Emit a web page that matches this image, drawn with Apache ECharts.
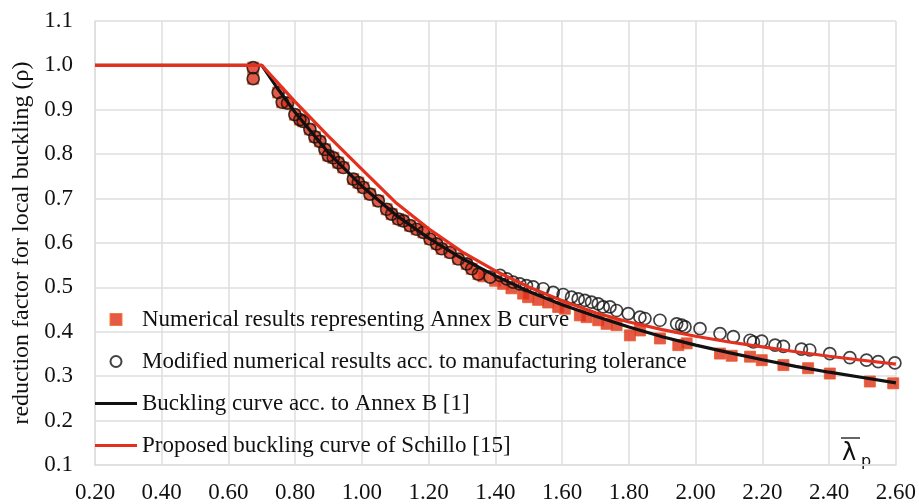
<!DOCTYPE html>
<html>
<head>
<meta charset="utf-8">
<script src="https://cdn.jsdelivr.net/npm/echarts@6.0.0/dist/echarts.min.js"></script>
<style>
  html, body { margin: 0; padding: 0; background: #fff; }
  #chart { width: 919px; height: 504px; }
</style>
</head>
<body>
<div id="chart"></div>
<script>
// series names (legend)
const nameNum = 'Numerical results representing Annex B curve';
const nameMod = 'Modified numerical results acc. to manufacturing tolerance';
const nameAnnex = 'Buckling curve acc. to Annex B [1]';
const nameSchillo = 'Proposed buckling curve of Schillo [15]';

// numerical results (red squares)
const numX = [0.674, 0.674, 0.749, 0.761, 0.777, 0.799, 0.814, 0.824, 0.844, 0.859, 0.874, 0.889, 0.899, 0.914, 0.929, 0.944, 0.974, 0.989, 1.004, 1.024, 1.049, 1.074, 1.089, 1.109, 1.124, 1.144, 1.164, 1.184, 1.204, 1.224, 1.239, 1.264, 1.289, 1.314, 1.329, 1.349,
  1.364, 1.399, 1.423, 1.448, 1.483, 1.498, 1.528, 1.558, 1.588, 1.608, 1.653, 1.673, 1.708, 1.733, 1.763, 1.803, 1.833, 1.893, 1.948, 1.973, 2.073, 2.108, 2.163, 2.198, 2.263, 2.337, 2.402, 2.522, 2.592];
const numY = [0.995, 0.970, 0.939, 0.917, 0.915, 0.889, 0.878, 0.874, 0.856, 0.839, 0.829, 0.811, 0.797, 0.792, 0.781, 0.770, 0.744, 0.736, 0.725, 0.710, 0.695, 0.676, 0.665, 0.654, 0.650, 0.639, 0.631, 0.624, 0.609, 0.598, 0.587, 0.579, 0.564, 0.553, 0.542, 0.530,
  0.525, 0.515, 0.508, 0.498, 0.486, 0.478, 0.472, 0.466, 0.456, 0.452, 0.437, 0.433, 0.426, 0.418, 0.415, 0.392, 0.403, 0.385, 0.370, 0.374, 0.351, 0.346, 0.344, 0.336, 0.325, 0.318, 0.306, 0.288, 0.284];

// modified numerical results (open circles)
const modX = [0.674, 0.674, 0.749, 0.761, 0.777, 0.799, 0.814, 0.824, 0.844, 0.859, 0.874, 0.889, 0.899, 0.914, 0.929, 0.944, 0.974, 0.989, 1.004, 1.024, 1.049, 1.074, 1.089, 1.109, 1.124, 1.144, 1.164, 1.184, 1.204, 1.224, 1.239, 1.264, 1.289, 1.314, 1.329, 1.349,
  1.384, 1.414, 1.434, 1.453, 1.473, 1.493, 1.513, 1.543, 1.573, 1.603, 1.628, 1.648, 1.668, 1.688, 1.708, 1.723, 1.743, 1.763, 1.798, 1.833, 1.848, 1.893, 1.943, 1.958, 1.968, 2.013, 2.073, 2.113, 2.163, 2.173, 2.198, 2.238, 2.263, 2.317, 2.342, 2.402, 2.462, 2.512, 2.547, 2.597];
const modY = [0.995, 0.970, 0.939, 0.917, 0.915, 0.889, 0.878, 0.874, 0.856, 0.839, 0.829, 0.811, 0.797, 0.792, 0.781, 0.770, 0.744, 0.736, 0.725, 0.710, 0.695, 0.676, 0.665, 0.654, 0.650, 0.639, 0.631, 0.624, 0.609, 0.598, 0.587, 0.579, 0.564, 0.553, 0.542, 0.530,
  0.523, 0.527, 0.519, 0.512, 0.508, 0.504, 0.501, 0.497, 0.489, 0.484, 0.478, 0.474, 0.471, 0.467, 0.463, 0.456, 0.456, 0.448, 0.441, 0.433, 0.430, 0.426, 0.418, 0.415, 0.411, 0.407, 0.396, 0.389, 0.381, 0.377, 0.379, 0.370, 0.367, 0.361, 0.359, 0.351, 0.342, 0.336, 0.333, 0.330];

// Annex B curve (black)
const annexX = [0.2, 0.7, 0.75, 0.8, 0.9, 1.0, 1.1, 1.2, 1.3, 1.4, 1.5, 1.6, 1.7, 1.8, 1.9, 2.0, 2.1, 2.2, 2.3, 2.4, 2.5, 2.6];
const annexY = [1.0, 1.0, 0.945, 0.894, 0.803, 0.728, 0.664, 0.611, 0.565, 0.526, 0.491, 0.461, 0.435, 0.411, 0.389, 0.370, 0.353, 0.337, 0.322, 0.309, 0.297, 0.285];

// Schillo curve (red)
const schilloX = [0.2, 0.7, 0.8, 0.9, 1.0, 1.1, 1.2, 1.3, 1.4, 1.5, 1.6, 1.7, 1.8, 1.9, 2.0, 2.1, 2.2, 2.3, 2.4, 2.5, 2.6];
const schilloY = [1.0, 1.0, 0.918, 0.840, 0.766, 0.692, 0.632, 0.580, 0.537, 0.501, 0.470, 0.443, 0.422, 0.405, 0.390, 0.377, 0.366, 0.355, 0.345, 0.336, 0.327];

const zip = (xs, ys) => xs.map((x, i) => [x, ys[i]]);

const serif = 'Liberation Serif';
const gridColor = '#dedede';
const lineIcon = 'path://M0,0L42,0L42,3L0,3Z';

const chart = echarts.init(document.getElementById('chart'));
chart.setOption({
  animation: false,
  grid: { left: 95, right: 23, top: 21, bottom: 37 },
  legend: {
    orient: 'vertical',
    left: 95,
    top: 308,
    padding: 0,
    itemWidth: 42,
    itemHeight: 11,
    itemGap: 19,
    textStyle: { fontFamily: serif, fontSize: 23, color: '#111' },
    data: [
      { name: nameNum, icon: 'path://M0,0L10,0L10,10L0,10Z' },
      { name: nameMod, icon: 'circle' },
      { name: nameAnnex, icon: lineIcon },
      { name: nameSchillo, icon: lineIcon }
    ]
  },
  xAxis: {
    type: 'value',
    min: 0.2,
    max: 2.6,
    interval: 0.2,
    axisLine: { show: true, lineStyle: { color: gridColor, width: 1.5 } },
    axisTick: { show: false },
    splitLine: { show: true, lineStyle: { color: gridColor, width: 1.5 } },
    axisLabel: {
      fontFamily: serif, fontSize: 23, color: '#111', margin: 16,
      formatter: v => v.toFixed(2)
    }
  },
  yAxis: {
    type: 'value',
    min: 0.1,
    max: 1.1,
    interval: 0.1,
    name: 'reduction factor for local buckling (ρ)',
    nameLocation: 'middle',
    nameGap: 60,
    nameTextStyle: { fontFamily: serif, fontSize: 24, color: '#111' },
    axisLine: { show: true, lineStyle: { color: gridColor, width: 1.5 } },
    axisTick: { show: false },
    splitLine: { show: true, lineStyle: { color: gridColor, width: 1.5 } },
    axisLabel: {
      fontFamily: serif, fontSize: 23, color: '#111', margin: 22,
      formatter: v => v.toFixed(1)
    }
  },
  graphic: [
    { type: 'text', x: 842, y: 454, style: { text: 'λ', font: '24px "DejaVu Sans"', fill: '#111', verticalAlign: 'middle' } },
    { type: 'text', x: 861, y: 462, style: { text: 'p', font: '16px "DejaVu Sans"', fill: '#111', verticalAlign: 'middle' } },
    { type: 'line', shape: { x1: 841, y1: 438, x2: 860, y2: 438 }, style: { stroke: '#333', lineWidth: 1.5 } }
  ],
  series: [
    {
      name: nameNum,
      type: 'scatter',
      symbol: 'rect',
      symbolSize: 11,
      itemStyle: { color: '#df2f1a', borderColor: '#ea5a22', borderWidth: 1 },
      data: zip(numX, numY),
      z: 2
    },
    {
      name: nameMod,
      type: 'scatter',
      symbol: 'circle',
      symbolSize: 12,
      itemStyle: { color: 'rgba(0,0,0,0)', borderColor: '#111', borderWidth: 1.7 },
      data: zip(modX, modY),
      z: 3
    },
    {
      name: nameAnnex,
      type: 'line',
      symbol: 'none',
      lineStyle: { color: '#111', width: 3.2 },
      itemStyle: { color: '#111' },
      data: zip(annexX, annexY),
      z: 4
    },
    {
      name: nameSchillo,
      type: 'line',
      symbol: 'none',
      lineStyle: { color: '#e3301f', width: 3.2 },
      itemStyle: { color: '#e3301f' },
      data: zip(schilloX, schilloY),
      z: 5
    }
  ]
});
</script>
</body>
</html>
